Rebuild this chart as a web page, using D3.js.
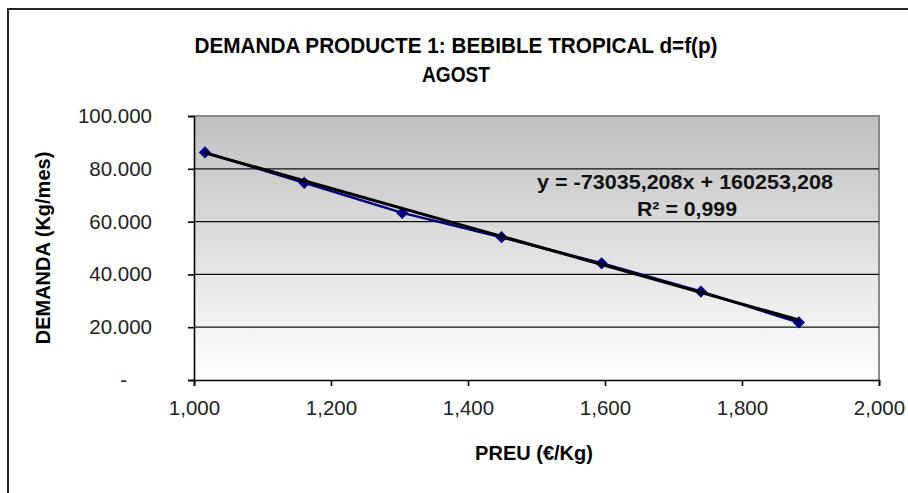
<!DOCTYPE html>
<html>
<head>
<meta charset="utf-8">
<script src="https://cdn.jsdelivr.net/npm/d3@7"></script>
<style>
  body { margin: 0; background: #fff; }
  svg { display: block; font-family: "Liberation Sans", Arial, sans-serif; }
</style>
</head>
<body>
<script>
// Chart data
const prices = [1.016, 1.161, 1.304, 1.449, 1.595, 1.740, 1.883];
const demand = [86200, 74700, 63300, 54100, 44200, 33500, 21800];
const xTicks = [1.0, 1.2, 1.4, 1.6, 1.8, 2.0];
const yTicks = [0, 20000, 40000, 60000, 80000, 100000];
const trendSlope = -73035.208;
const trendIntercept = 160253.208;
const titleLines = ["DEMANDA PRODUCTE 1: BEBIBLE TROPICAL d=f(p)", "AGOST"];
const equationLines = ["y = -73035,208x + 160253,208", "R² = 0,999"];

const width = 908;
const height = 493;
const plot = { left: 194, top: 116, right: 879, bottom: 380 };

const svg = d3.select("body")
  .append("svg")
  .attr("width", width)
  .attr("height", height);

// Outer chart border (runs off the right and bottom)
svg.append("rect")
  .attr("x", 8).attr("y", 9)
  .attr("width", width).attr("height", height)
  .attr("fill", "#fff")
  .attr("stroke", "#222")
  .attr("stroke-width", 2);

// Gradient for the plot area
const grad = svg.append("defs").append("linearGradient")
  .attr("id", "plotGrad")
  .attr("x1", 0).attr("y1", 0).attr("x2", 0).attr("y2", 1);
grad.append("stop").attr("offset", "0%").attr("stop-color", "#c0c0c0");
grad.append("stop").attr("offset", "100%").attr("stop-color", "#ffffff");

const x = d3.scaleLinear().domain([1, 2]).range([plot.left, plot.right]);
const y = d3.scaleLinear().domain([0, 100000]).range([plot.bottom, plot.top]);

svg.append("rect")
  .attr("x", plot.left).attr("y", plot.top)
  .attr("width", plot.right - plot.left)
  .attr("height", plot.bottom - plot.top)
  .attr("fill", "url(#plotGrad)");

// Plot area border: gray top and right
svg.append("path")
  .attr("d", `M${plot.left},${plot.top}H${plot.right}V${plot.bottom}`)
  .attr("fill", "none")
  .attr("stroke", "#8a8a8a")
  .attr("stroke-width", 2);

// Horizontal gridlines
svg.append("g")
  .selectAll("line")
  .data(yTicks.filter(d => d > 0 && d < 100000))
  .enter()
  .append("line")
  .attr("x1", plot.left).attr("x2", plot.right)
  .attr("y1", d => y(d)).attr("y2", d => y(d))
  .attr("stroke", "#111")
  .attr("stroke-width", 1.3);

// Number formats: dot thousands, comma decimals
const loc = d3.formatLocale({ decimal: ",", thousands: ".", grouping: [3], currency: ["", ""] });
const fmtY = loc.format(",d");
const fmtX = loc.format(".3f");

const yAxis = d3.axisLeft(y)
  .tickValues(yTicks)
  .tickSize(6)
  .tickPadding(36)
  .tickFormat(d => d === 0 ? "-" : fmtY(d));

const yAxisGroup = svg.append("g")
  .attr("transform", `translate(${plot.left},0)`)
  .call(yAxis);

const xAxis = d3.axisBottom(x)
  .tickValues(xTicks)
  .tickSize(6)
  .tickPadding(12)
  .tickFormat(fmtX);

const xAxisGroup = svg.append("g")
  .attr("transform", `translate(0,${plot.bottom})`)
  .call(xAxis);

[yAxisGroup, xAxisGroup].forEach(g => {
  g.select(".domain").attr("stroke", "#000").attr("stroke-width", 1.6);
  g.selectAll(".tick line").attr("stroke", "#000").attr("stroke-width", 1.6);
  g.selectAll("text")
    .attr("font-size", 20.5)
    .attr("fill", "#222")
    .attr("font-family", "Liberation Sans, Arial, sans-serif");
});
// Excel accounting style: the zero dash sits further left
yAxisGroup.selectAll(".tick text").filter(d => d === 0).attr("dx", -25);
xAxisGroup.selectAll(".tick text").attr("dy", "0.85em");

// Series line and markers
const pts = prices.map((p, i) => [p, demand[i]]);
svg.append("path")
  .datum(pts)
  .attr("d", d3.line().x(d => x(d[0])).y(d => y(d[1])))
  .attr("fill", "none")
  .attr("stroke", "#000080")
  .attr("stroke-width", 2.5);

svg.append("g")
  .selectAll("path")
  .data(pts)
  .enter()
  .append("path")
  .attr("transform", d => `translate(${x(d[0])},${y(d[1])})`)
  .attr("d", d3.symbol(d3.symbolDiamond2, 95))
  .attr("fill", "#000080");

// Linear trendline across the data range
const xr = d3.extent(prices);
svg.append("line")
  .attr("x1", x(xr[0])).attr("y1", y(trendSlope * xr[0] + trendIntercept))
  .attr("x2", x(xr[1])).attr("y2", y(trendSlope * xr[1] + trendIntercept))
  .attr("stroke", "#000")
  .attr("stroke-width", 3);

// Trendline label
svg.append("text")
  .attr("x", 685).attr("y", 189)
  .attr("text-anchor", "middle")
  .attr("font-size", 20)
  .attr("font-weight", "bold")
  .attr("fill", "#111")
  .attr("textLength", 296)
  .attr("lengthAdjust", "spacingAndGlyphs")
  .text(equationLines[0]);

svg.append("text")
  .attr("x", 687).attr("y", 216)
  .attr("text-anchor", "middle")
  .attr("font-size", 20)
  .attr("font-weight", "bold")
  .attr("fill", "#111")
  .attr("textLength", 100)
  .attr("lengthAdjust", "spacingAndGlyphs")
  .text(equationLines[1]);

// Titles
svg.append("text")
  .attr("x", 456).attr("y", 53)
  .attr("text-anchor", "middle")
  .attr("font-size", 22)
  .attr("font-weight", "bold")
  .attr("textLength", 523)
  .attr("lengthAdjust", "spacingAndGlyphs")
  .text(titleLines[0]);

svg.append("text")
  .attr("x", 456).attr("y", 82)
  .attr("text-anchor", "middle")
  .attr("font-size", 22)
  .attr("font-weight", "bold")
  .attr("textLength", 68)
  .attr("lengthAdjust", "spacingAndGlyphs")
  .text(titleLines[1]);

// Axis titles
svg.append("text")
  .attr("x", 534).attr("y", 460)
  .attr("text-anchor", "middle")
  .attr("font-size", 20)
  .attr("font-weight", "bold")
  .text("PREU (€/Kg)");

svg.append("text")
  .attr("transform", "translate(50,248) rotate(-90)")
  .attr("text-anchor", "middle")
  .attr("font-size", 20)
  .attr("font-weight", "bold")
  .text("DEMANDA (Kg/mes)");
</script>
</body>
</html>
